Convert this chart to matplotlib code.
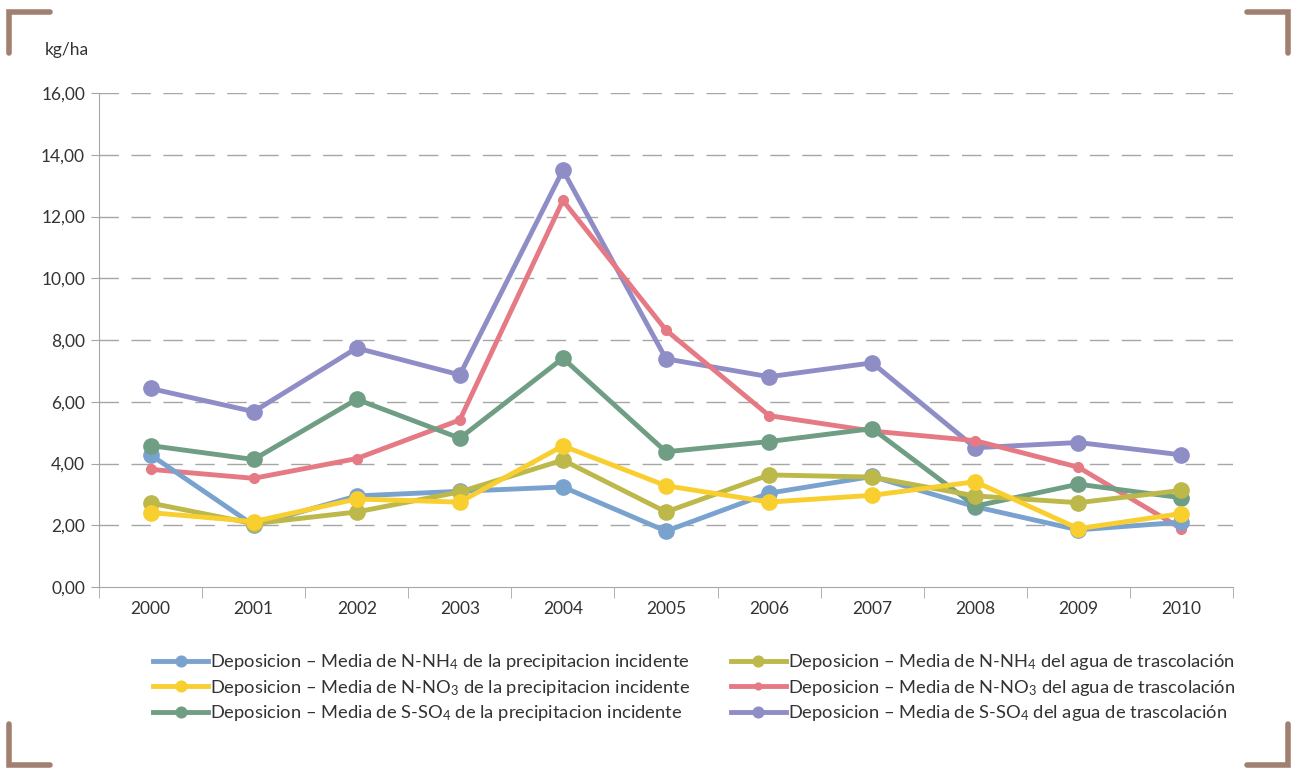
import matplotlib
matplotlib.use("Agg")
import matplotlib.pyplot as plt
from matplotlib.lines import Line2D
import numpy as np

# Series (kg/ha), one value per year
years = [2000, 2001, 2002, 2003, 2004, 2005, 2006, 2007, 2008, 2009, 2010]
nh4_incidente = [4.28, 2.00, 2.95, 3.10, 3.24, 1.81, 3.04, 3.58, 2.60, 1.85, 2.10]
no3_incidente = [2.41, 2.12, 2.85, 2.75, 4.57, 3.28, 2.75, 2.97, 3.41, 1.89, 2.38]
so4_incidente = [4.58, 4.13, 6.08, 4.82, 7.41, 4.38, 4.71, 5.13, 2.62, 3.33, 2.89]
nh4_trasc = [2.72, 2.05, 2.43, 3.08, 4.11, 2.43, 3.63, 3.56, 2.95, 2.73, 3.13]
no3_trasc = [3.81, 3.52, 4.16, 5.41, 12.52, 8.32, 5.55, 5.05, 4.74, 3.88, 1.89]
so4_trasc = [6.43, 5.68, 7.74, 6.87, 13.50, 7.39, 6.81, 7.26, 4.51, 4.68, 4.28]

labels = [
    "Deposicion – Media de N-NH$_4$ de la precipitacion incidente",
    "Deposicion – Media de N-NO$_3$ de la precipitacion incidente",
    "Deposicion – Media de S-SO$_4$ de la precipitacion incidente",
    "Deposicion – Media de N-NH$_4$ del agua de trascolación",
    "Deposicion – Media de N-NO$_3$ del agua de trascolación",
    "Deposicion – Media de S-SO$_4$ del agua de trascolación",
]
series = [nh4_incidente, no3_incidente, so4_incidente, nh4_trasc, no3_trasc, so4_trasc]
colors = ["#7aa2cf", "#f8cf2f", "#6f9e84", "#bdb84a", "#e57a84", "#8f8dc6"]
msizes = [11, 11, 11, 11, 7, 11]
# drawing order (back to front)
zorder = [3, 6, 4, 5, 2, 1]

plt.rcParams["font.family"] = ["Lato", "DejaVu Sans"]
plt.rcParams["mathtext.fontset"] = "custom"
plt.rcParams["mathtext.rm"] = "Lato"
plt.rcParams["mathtext.it"] = "Lato"
plt.rcParams["mathtext.default"] = "regular"

text_col = "#333333"
grid_col = "#a6a6a6"

fig = plt.figure(figsize=(12.97, 7.69), dpi=100)
ax = fig.add_axes([99 / 1297, 1 - 587 / 769, (1233 - 99) / 1297, (587 - 93) / 769])

x = np.arange(len(years))
handles = []
for vals, col, ms, lab, z in zip(series, colors, msizes, labels, zorder):
    ax.plot(x, vals, color=col, lw=3.5, marker="o", ms=ms, zorder=z + 2,
            solid_joinstyle="round", solid_capstyle="round")
    handles.append(Line2D([0], [0], color=col, lw=3.5, marker="o", ms=ms * 0.7, label=lab))

ax.set_xlim(-0.5, len(years) - 0.5)
ax.set_ylim(0, 16)
ax.set_yticks(np.arange(0, 17, 2))
ax.set_yticklabels([f"{v:.2f}".replace(".", ",") for v in np.arange(0, 17, 2)])
ax.set_xticks(x)
ax.set_xticklabels([str(y) for y in years])
ax.set_xticks(np.arange(-0.5, len(years), 1), minor=True)

for v in np.arange(2, 17, 2):
    ax.axhline(v, color=grid_col, lw=1, dashes=(14, 9), zorder=0)

for s in ["top", "right"]:
    ax.spines[s].set_visible(False)
ax.spines["left"].set_color(grid_col)
ax.spines["bottom"].set_color(grid_col)
ax.tick_params(axis="y", colors=grid_col, labelcolor=text_col, labelsize=12.5, length=6, pad=4)
ax.tick_params(axis="x", which="major", length=0, labelcolor=text_col, labelsize=12.5, pad=10)
ax.tick_params(axis="x", which="minor", length=8, color=grid_col)

fig.text(45 / 1297, 1 - 50 / 769, "kg/ha", fontsize=12.5, color=text_col, va="center", ha="left")

fig.legend(handles=handles, ncol=2, frameon=False, loc="upper left",
           bbox_to_anchor=(146 / 1297, 1 - 645 / 769), fontsize=13.2,
           handlelength=3.0, handletextpad=0.1, columnspacing=2.2, labelspacing=0.3,
           labelcolor=text_col, borderaxespad=0)

# corner brackets
bc = "#a08070"
W, H = 1297, 769
def bracket(xs, ys):
    fig.add_artist(Line2D([p / W for p in xs], [1 - p / H for p in ys], color=bc, lw=4,
                          solid_capstyle="round", solid_joinstyle="miter"))
bracket([50, 9, 9], [12, 12, 53])
bracket([1247, 1288, 1288], [12, 12, 53])
bracket([9, 9, 50], [724, 765, 765])
bracket([1288, 1288, 1247], [724, 765, 765])

fig.savefig("out.png", dpi=100)
